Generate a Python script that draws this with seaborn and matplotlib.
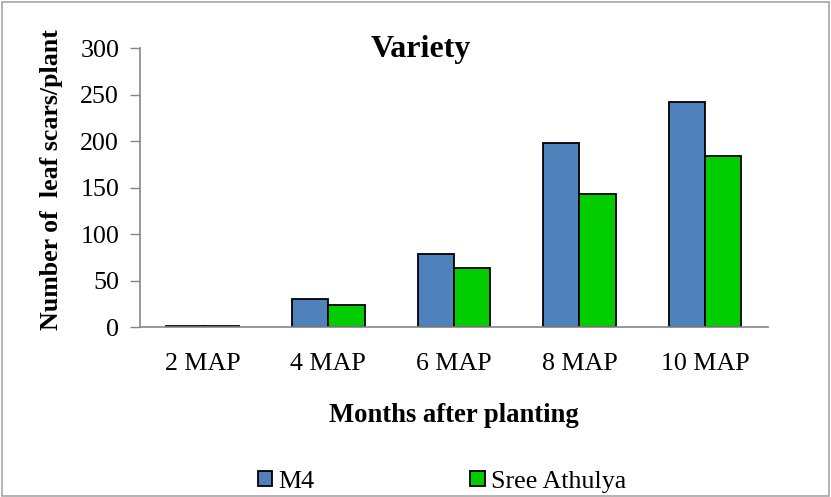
import matplotlib
matplotlib.use("Agg")
import matplotlib.pyplot as plt
import seaborn as sns
import pandas as pd
from matplotlib.patches import Rectangle

# Leaf scar counts per plant by month after planting
months = ["2 MAP", "4 MAP", "6 MAP", "8 MAP", "10 MAP"]
m4 = [1, 30, 78, 198, 242]
sree_athulya = [1, 24, 63, 143, 184]
varieties = ["M4", "Sree Athulya"]
colors = ["#4F81BD", "#00CC00"]
y_ticks = [0, 50, 100, 150, 200, 250, 300]

df = pd.DataFrame({
    "Month": months * 2,
    "Scars": m4 + sree_athulya,
    "Variety": [varieties[0]] * len(months) + [varieties[1]] * len(months),
})

sns.set_style("white", {"text.color": "black", "axes.labelcolor": "black",
                        "xtick.color": "black", "ytick.color": "black"})
plt.rcParams["font.family"] = ["Liberation Serif", "DejaVu Serif"]

fig = plt.figure(figsize=(8.31, 4.97), dpi=100)
ax = fig.add_axes([0.1685, 0.342, 0.7555, 0.5614])

sns.barplot(data=df, x="Month", y="Scars", hue="Variety", order=months,
            hue_order=varieties, palette=colors, width=0.58, gap=0,
            edgecolor="black", linewidth=1.3, saturation=1, ax=ax,
            legend=True)

ax.set_ylim(0, 300)
ax.set_yticks(y_ticks)
ax.set_yticklabels([str(t) for t in y_ticks], fontsize=18.7, color="black")
ax.tick_params(axis="x", labelsize=18.7, labelcolor="black", length=0, pad=19)
ax.tick_params(axis="y", left=True, length=7, width=1, color="#868686",
               labelcolor="black", pad=8)
ax.set_xlim(-0.5, len(months) - 0.5)

for side in ["top", "right"]:
    ax.spines[side].set_visible(False)
for side in ["left", "bottom"]:
    ax.spines[side].set_color("#868686")
    ax.spines[side].set_linewidth(1.2)

ax.set_xlabel("Months after planting", fontsize=19.2, fontweight="bold",
              color="black", labelpad=20)
ax.set_ylabel("Number of  leaf scars/plant", fontsize=18.6, fontweight="bold",
              color="black")
ax.yaxis.set_label_coords(-0.122, 0.527)
ax.text(0.448, 0.993, "Variety", transform=ax.transAxes, ha="center", va="center",
        fontsize=23, fontweight="bold", color="black")

handles, labels = ax.get_legend_handles_labels()
ax.get_legend().remove()
fig.legend(handles, labels, loc="center", bbox_to_anchor=(0.532, 0.031), ncol=2,
           frameon=False, fontsize=18.7, handlelength=0.55, handleheight=0.55,
           handletextpad=0.25, columnspacing=6.0, labelcolor="black")

fig.patches.append(Rectangle((0.002, 0.003), 0.995, 0.993, transform=fig.transFigure,
                             fill=False, edgecolor="#A6A6A6", linewidth=1.2))

fig.savefig("out.png", dpi=100)
